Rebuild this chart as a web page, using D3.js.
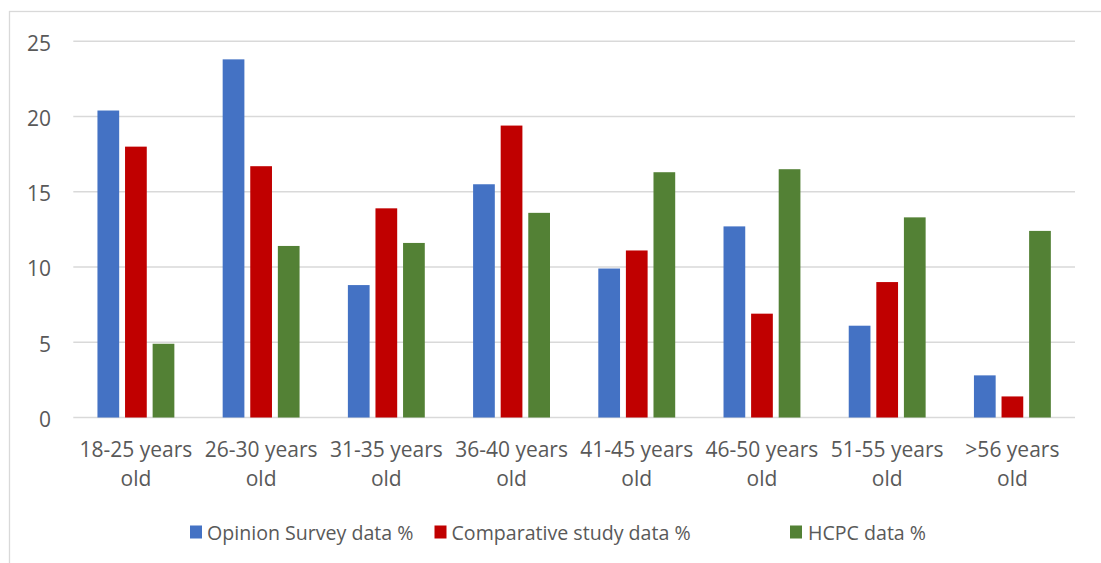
<!DOCTYPE html>
<html>
<head>
<meta charset="utf-8">
<script src="https://cdn.jsdelivr.net/npm/d3@7"></script>
<style>
  html, body { margin: 0; padding: 0; background: #fff; }
  svg { display: block; }
  text { font-family: "Open Sans", sans-serif; fill: #595959; }
</style>
</head>
<body>
<div id="chart"></div>
<script>
const categories = ["18-25 years old", "26-30 years old", "31-35 years old", "36-40 years old",
                    "41-45 years old", "46-50 years old", "51-55 years old", ">56 years old"];
const seriesNames = ["Opinion Survey data %", "Comparative study data %", "HCPC data %"];
const opinionSurvey = [20.4, 23.8, 8.8, 15.5, 9.9, 12.7, 6.1, 2.8];
const comparativeStudy = [18.0, 16.7, 13.9, 19.4, 11.1, 6.9, 9.0, 1.4];
const hcpc = [4.9, 11.4, 11.6, 13.6, 16.3, 16.5, 13.3, 12.4];
const yTicks = [0, 5, 10, 15, 20, 25];
const colors = ["#4472C4", "#C00000", "#538135"];

const series = [opinionSurvey, comparativeStudy, hcpc];

const W = 1101, H = 563;
const plot = { left: 73.3, right: 1075, top: 41.3, bottom: 417.5 };
const FONT = "\"Open Sans\", sans-serif";
const AXIS_FS = "21px";
const LEG_FS = "19.6px";

const svg = d3.select("#chart").append("svg").attr("width", W).attr("height", H);

// outer chart border
svg.append("rect").attr("x", 9.5).attr("y", 11.5).attr("width", W + 10).attr("height", H + 10)
  .attr("fill", "none").attr("stroke", "#d9d9d9").attr("stroke-width", 1.3);

const x0 = d3.scaleBand().domain(categories).range([plot.left, plot.right]).paddingInner(0).paddingOuter(0);
const y = d3.scaleLinear().domain([0, 25]).range([plot.bottom, plot.top]);

// gridlines
svg.append("g").selectAll("line").data(yTicks).join("line")
  .attr("x1", plot.left).attr("x2", plot.right)
  .attr("y1", d => y(d)).attr("y2", d => y(d))
  .attr("stroke", "#d9d9d9").attr("stroke-width", 1.5);

// y axis labels
const yAxis = d3.axisLeft(y).tickValues(yTicks).tickSize(0).tickPadding(0);
const gy = svg.append("g").attr("transform", `translate(51,0)`).call(yAxis);
gy.select(".domain").remove();
gy.selectAll("text").style("font-size", AXIS_FS).attr("fill", "#595959").attr("dy", "0.42em")
  .style("font-family", FONT);

// bars
const step = x0.bandwidth();
const barW = step * 0.1735;
const gap = barW * 0.27;
const groupW = 3 * barW + 2 * gap;
const x1 = d3.scaleBand().domain(d3.range(3)).range([0, groupW]).paddingInner(gap / (barW + gap)).paddingOuter(0);

series.forEach((vals, si) => {
  svg.append("g").selectAll("rect").data(vals).join("rect")
    .attr("x", (d, i) => x0(categories[i]) + (step - groupW) / 2 + x1(si))
    .attr("y", d => y(d))
    .attr("width", x1.bandwidth())
    .attr("height", d => y(0) - y(d))
    .attr("fill", colors[si]);
});

// x labels (two lines)
const xAxis = d3.axisBottom(x0).tickSize(0).tickPadding(0);
const gx = svg.append("g").attr("transform", `translate(0,${plot.bottom})`).call(xAxis);
gx.select(".domain").remove();
gx.selectAll(".tick text").each(function(d) {
  const t = d3.select(this);
  t.text(null).attr("y", 0).attr("dy", null)
    .style("font-size", AXIS_FS).style("font-family", FONT)
    .attr("fill", "#595959");
  const words = d.split(" ");
  const l1 = words.slice(0, 2).join(" ");
  const l2 = words.slice(2).join(" ");
  t.append("tspan").attr("x", 0).attr("y", 39.5).text(l1);
  t.append("tspan").attr("x", 0).attr("y", 68.5).text(l2);
});

// legend
const legendItems = [
  { sx: 190, tx: 207 },
  { sx: 434.5, tx: 451.5 },
  { sx: 790, tx: 808 }
];
const lg = svg.append("g");
seriesNames.forEach((name, i) => {
  lg.append("rect").attr("x", legendItems[i].sx).attr("y", 525.5).attr("width", 12).attr("height", 13)
    .attr("fill", colors[i]);
  lg.append("text").attr("x", legendItems[i].tx).attr("y", 539.5).text(name)
    .style("font-size", LEG_FS).style("font-family", FONT);
});
</script>
</body>
</html>
